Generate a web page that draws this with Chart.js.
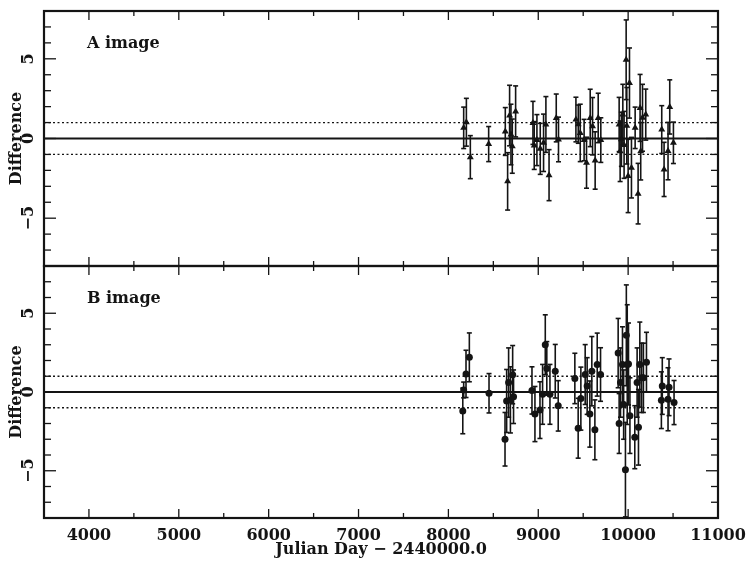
<!DOCTYPE html>
<html>
<head>
<meta charset="utf-8">
<script src="https://cdn.jsdelivr.net/npm/chart.js@4.4.1/dist/chart.umd.min.js"></script>
<style>
  body { margin: 0; background: #fff; }
  canvas { position: absolute; left: 0; }
  #cA { top: 0; }
  #cB { top: 256px; }
</style>
</head>
<body>
<canvas id="cA" width="748" height="270"></canvas>
<canvas id="cB" width="748" height="306"></canvas>
<script>
// A image: Julian Day - 2440000, difference, error
const aDay = [8170, 8200, 8244, 8448, 8633, 8659, 8681, 8696, 8711, 8748,
  8941, 8955, 8985, 9022, 9059, 9085, 9120, 9200, 9225,
  9419, 9445, 9467, 9510, 9537, 9578, 9604, 9633, 9667, 9696,
  9900, 9911, 9925, 9941, 9955, 9978, 9985, 10000, 10015, 10037, 10078, 10111, 10133, 10140, 10160, 10196,
  10374, 10400, 10444, 10463, 10504];
const aDiff = [0.67, 1.02, -1.17, -0.35, 0.44, -2.69, 1.44, 0.25, -0.48, 1.7,
  0.98, -0.44, -0.1, -0.65, -0.27, 0.88, -2.3, 1.29, -0.06,
  1.19, 0.9, 0.35, -0.1, -1.52, 1.29, 0.77, -1.38, 1.29, -0.1,
  0.88, -0.8, -0.05, 1.5, -0.4, 4.94, 0.8, -2.35, 3.48, -1.83, 0.67, -3.46, 1.92, -0.8, 1.3, 1.5,
  0.56, -1.94, -0.79, 1.98, -0.27];
const aErr = [1.3, 1.5, 1.35, 1.1, 1.5, 1.8, 1.9, 1.9, 1.7, 1.6,
  1.35, 1.5, 1.6, 1.6, 1.8, 1.75, 1.6, 1.5, 1.4,
  1.4, 1.2, 1.8, 1.3, 1.6, 1.8, 1.8, 1.8, 1.55, 1.4,
  1.7, 1.9, 1.7, 1.9, 2.1, 2.5, 2.4, 2.3, 2.2, 1.9, 1.3, 1.9, 2.1, 1.8, 2.1, 1.6,
  1.5, 1.7, 1.8, 1.7, 1.3];

// B image
const bDay = [8160, 8170, 8196, 8233, 8452, 8630, 8648, 8670, 8690, 8715, 8725,
  8930, 8963, 9019, 9048, 9078, 9095, 9130, 9189, 9222,
  9407, 9444, 9474, 9522, 9544, 9574, 9596, 9630, 9656, 9693,
  9889, 9900, 9915, 9937, 9950, 9970, 9980, 9990, 10004, 10020, 10074, 10100, 10115, 10130, 10150, 10170, 10204,
  10370, 10380, 10444, 10455, 10511];
const bDiff = [-1.2, 0.13, 1.15, 2.2, -0.08, -3.0, -0.57, 0.6, -0.5, 1.1, -0.3,
  0.1, -1.4, -1.15, -0.15, 3.0, 1.5, -0.15, 1.32, -0.88,
  0.86, -2.3, -0.42, 1.11, 0.38, -1.4, 1.32, -2.4, 1.74, 1.11,
  2.47, -2.0, 0.6, 1.74, -0.8, -4.93, 3.6, 1.74, 1.78, -1.5, -2.87, 0.6, -2.24, 1.74, 0.9, 0.9, 1.89,
  -0.52, 0.38, -0.46, 0.3, -0.67];
const bErr = [1.45, 0.5, 1.5, 1.55, 1.25, 1.7, 2.0, 2.2, 2.1, 1.85, 1.7,
  1.5, 1.75, 1.8, 1.9, 1.9, 1.7, 1.9, 1.7, 1.6,
  1.6, 1.9, 2.0, 1.9, 1.8, 2.1, 2.2, 1.9, 2.0, 1.7,
  2.2, 1.9, 2.2, 2.4, 2.2, 3.0, 3.2, 3.8, 2.6, 2.4, 2.0, 2.2, 2.4, 2.7, 2.2, 2.2, 1.9,
  1.8, 1.8, 2.0, 1.8, 1.4];

const xTicks = [4000, 5000, 6000, 7000, 8000, 9000, 10000, 11000];
const yTicks = [-5, 0, 5];

const INK = '#141414';
const FONT = "'DejaVu Serif', serif";

function toPoints(days, diffs, errs) {
  return days.map((d, i) => ({ x: d, y: diffs[i], e: errs[i] }));
}

function seg(ctx, x1, y1, x2, y2) {
  ctx.beginPath();
  ctx.moveTo(x1, y1);
  ctx.lineTo(x2, y2);
  ctx.stroke();
}

// reference lines, error bars, frame with inward ticks, panel label
const panelPlugin = {
  id: 'panel',
  beforeDatasetsDraw(chart) {
    const { ctx, chartArea: a, scales: { y } } = chart;
    ctx.save();
    ctx.strokeStyle = INK;
    ctx.lineWidth = 1.8;
    seg(ctx, a.left, y.getPixelForValue(0), a.right, y.getPixelForValue(0));
    ctx.lineWidth = 1.3;
    ctx.setLineDash([2, 2.5]);
    [-1, 1].forEach(v => seg(ctx, a.left, y.getPixelForValue(v), a.right, y.getPixelForValue(v)));
    ctx.setLineDash([]);
    // error bars
    ctx.lineWidth = 1.6;
    chart.data.datasets[0].data.forEach(p => {
      const px = chart.scales.x.getPixelForValue(p.x);
      const y1 = y.getPixelForValue(p.y + p.e);
      const y2 = y.getPixelForValue(p.y - p.e);
      seg(ctx, px, y1, px, y2);
      seg(ctx, px - 2.5, y1, px + 2.5, y1);
      seg(ctx, px - 2.5, y2, px + 2.5, y2);
    });
    ctx.restore();
  },
  afterDraw(chart, args, opts) {
    const { ctx, chartArea: a, scales: { x, y } } = chart;
    ctx.save();
    ctx.strokeStyle = INK;
    ctx.lineWidth = 1.3;
    for (let v = 3500; v <= 11000; v += 500) {
      const px = x.getPixelForValue(v);
      const len = v % 1000 === 0 ? 9 : 5;
      seg(ctx, px, a.bottom, px, a.bottom - len);
      seg(ctx, px, a.top, px, a.top + len);
    }
    for (let v = -8; v <= 8; v += 1) {
      const py = y.getPixelForValue(v);
      const len = v % 5 === 0 ? 12 : 7;
      seg(ctx, a.left, py, a.left + len, py);
      seg(ctx, a.right, py, a.right - len, py);
    }
    ctx.lineWidth = 2.2;
    ctx.strokeRect(a.left, a.top, a.right - a.left, a.bottom - a.top);
    ctx.fillStyle = INK;
    ctx.font = 'bold 16px ' + FONT;
    ctx.textBaseline = 'middle';
    ctx.fillText(opts.label, x.getPixelForValue(4000) - 2, a.top + 33);
    ctx.restore();
  }
};

function makeChart(id, points, style, radius, label, showX, pad) {
  return new Chart(document.getElementById(id), {
    type: 'scatter',
    data: {
      datasets: [{
        data: points,
        pointStyle: style,
        pointRadius: radius,
        pointHoverRadius: radius,
        backgroundColor: INK,
        borderColor: INK,
        borderWidth: 0
      }]
    },
    options: {
      responsive: false,
      animation: false,
      events: [],
      layout: { padding: pad },
      plugins: {
        legend: { display: false },
        tooltip: { enabled: false },
        panel: { label }
      },
      scales: {
        x: {
          type: 'linear',
          min: 3500,
          max: 11000,
          display: showX,
          afterBuildTicks: s => { s.ticks = xTicks.map(v => ({ value: v })); },
          afterFit: s => {
            s.height = showX ? 44 : 0;
            s.paddingLeft = 0;
            s.paddingRight = 0;
          },
          grid: { display: false, drawTicks: false },
          border: { display: false },
          ticks: {
            color: INK,
            padding: 8,
            maxRotation: 0,
            callback: v => String(v),
            font: { family: FONT, size: 16, weight: 'bold' }
          },
          title: {
            display: true,
            text: 'Julian Day − 2440000.0',
            color: INK,
            padding: { top: 0, bottom: 3 },
            font: { family: FONT, size: 16, weight: 'bold' }
          }
        },
        y: {
          min: -8,
          max: 8,
          afterBuildTicks: s => { s.ticks = yTicks.map(v => ({ value: v })); },
          afterFit: s => {
            s.width = 44;
            s.paddingTop = 0;
            s.paddingBottom = 0;
          },
          grid: { display: false, drawTicks: false },
          border: { display: false },
          ticks: {
            color: INK,
            padding: 3,
            minRotation: 90,
            maxRotation: 90,
            crossAlign: 'center',
            callback: v => v < 0 ? '−' + Math.abs(v) : String(v),
            font: { family: FONT, size: 16, weight: 'bold' }
          },
          title: {
            display: true,
            text: 'Difference',
            color: INK,
            padding: 7,
            font: { family: FONT, size: 16, weight: 'bold' }
          }
        }
      }
    },
    plugins: [panelPlugin]
  });
}

makeChart('cA', toPoints(aDay, aDiff, aErr), 'triangle', 4, 'A image', false,
  { top: 11, right: 30, bottom: 4, left: 0 });
makeChart('cB', toPoints(bDay, bDiff, bErr), 'circle', 3.5, 'B image', true,
  { top: 10, right: 30, bottom: 0, left: 0 });
</script>
</body>
</html>
